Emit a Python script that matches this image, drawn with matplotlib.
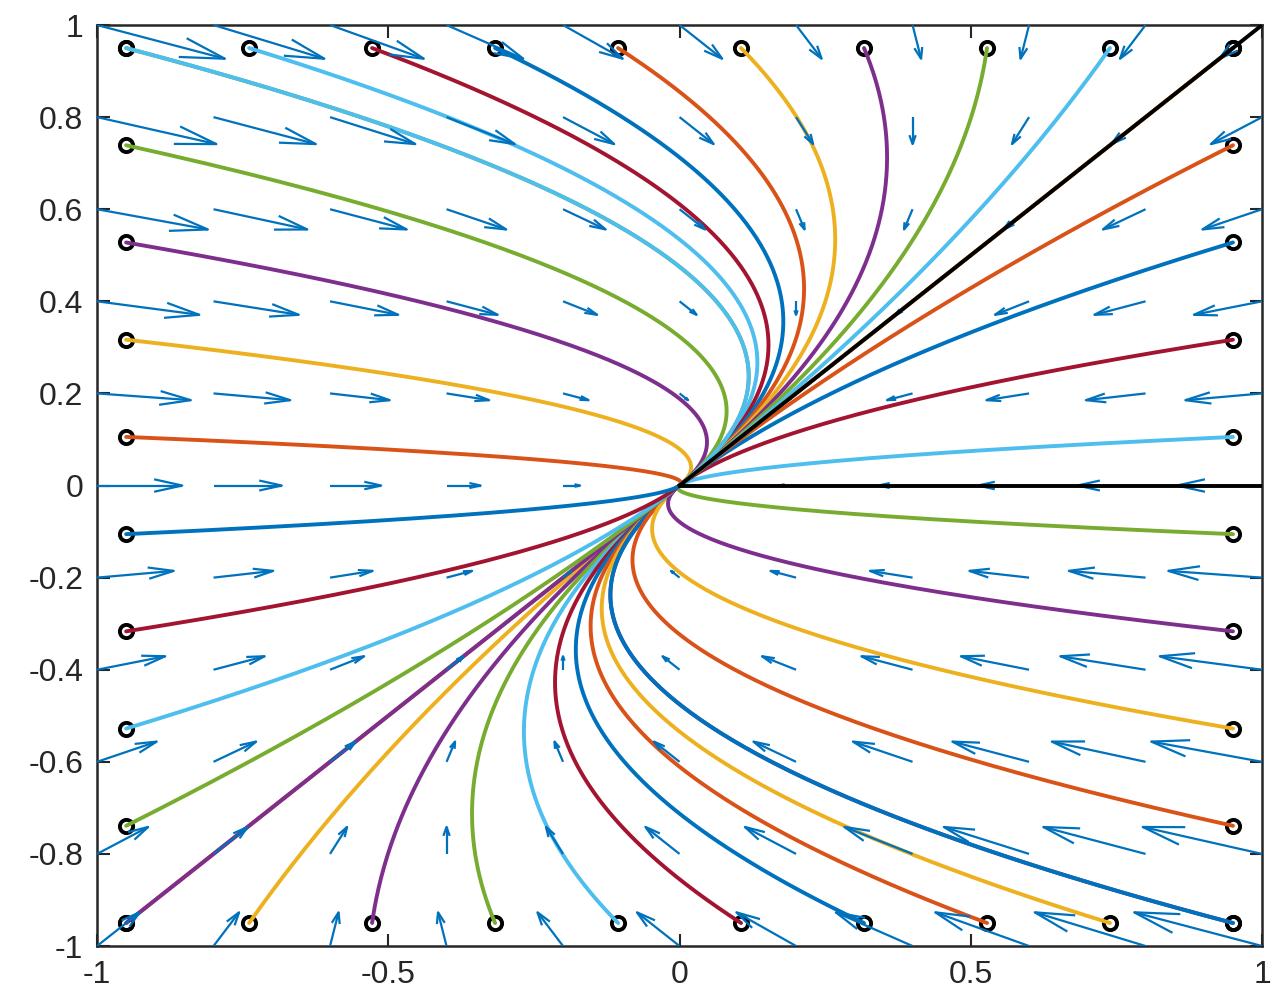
import numpy as np
import matplotlib
matplotlib.use("Agg")
import matplotlib.pyplot as plt
from matplotlib.collections import LineCollection

# linear system  d/dt [x, y] = A [x, y]
A = np.array([[-2.0, 1.0],
              [0.0, -1.0]])

# quiver grid
grid_x = np.linspace(-1, 1, 11)
grid_y = np.linspace(-1, 1, 11)

# start points of the trajectories (on the border of a 10x10 grid)
starts = np.linspace(-0.95, 0.95, 10)

# eigenvector directions drawn in black
eig1_x = [0, 1]
eig1_y = [0, 1]
eig2_x = [0, 1]
eig2_y = [0, 0]

tick_x = [-1, -0.5, 0, 0.5, 1]
tick_x_labels = ["-1", "-0.5", "0", "0.5", "1"]
tick_y = [-1, -0.8, -0.6, -0.4, -0.2, 0, 0.2, 0.4, 0.6, 0.8, 1]
tick_y_labels = ["-1", "-0.8", "-0.6", "-0.4", "-0.2", "0", "0.2", "0.4", "0.6", "0.8", "1"]

# matlab default colour order
colors = ["#0072BD", "#D95319", "#EDB120", "#7E2F8E", "#77AC30", "#4DBEEE", "#A2142F"]

plt.rcParams['font.family'] = ['Liberation Sans', 'DejaVu Sans']
plt.rcParams['axes.unicode_minus'] = False

fig = plt.figure(figsize=(12.8, 9.93), dpi=100)
ax = fig.add_axes([0.0758, 0.0473, 0.9102, 0.9275])

# ---- quiver, drawn like matlab (line arrows, autoscale)
X, Y = np.meshgrid(grid_x, grid_y)
U = A[0, 0] * X + A[0, 1] * Y
V = A[1, 0] * X + A[1, 1] * Y
n = np.sqrt(X.size)
delx = (grid_x.max() - grid_x.min()) / n
dely = (grid_y.max() - grid_y.min()) / n
lens = np.sqrt((U ** 2 + V ** 2) / (delx ** 2 + dely ** 2))
k = 0.9 / lens.max()
U = U * k
V = V * k

alpha, beta = 0.33, 0.28
segs = []
for x0, y0, u, v in zip(X.ravel(), Y.ravel(), U.ravel(), V.ravel()):
    if abs(u) + abs(v) < 1e-12:
        continue
    segs.append([(x0, y0), (x0 + u, y0 + v)])
    hx = [x0 + u - alpha * (u + beta * v), x0 + u, x0 + u - alpha * (u - beta * v)]
    hy = [y0 + v - alpha * (v - beta * u), y0 + v, y0 + v - alpha * (v + beta * u)]
    segs.append(list(zip(hx, hy)))
ax.add_collection(LineCollection(segs, colors=colors[0], linewidths=1.6, zorder=3))

# ---- trajectories
w, Vec = np.linalg.eig(A)
t = np.linspace(0, 14, 1500)

pts = []
pts += [(s, -0.95) for s in starts]   # bottom row
pts += [(s, 0.95) for s in starts]    # top row
pts += [(0.95, s) for s in starts]    # right column
pts += [(-0.95, s) for s in starts]   # left column

ci = 1
for (x0, y0) in pts:
    c = np.linalg.solve(Vec, np.array([x0, y0]))
    traj = Vec @ (c[:, None] * np.exp(w[:, None] * t))
    ax.plot(traj[0], traj[1], color=colors[ci % 7], lw=2.8, zorder=2,
            solid_capstyle='round')
    ax.plot(x0, y0, 'o', mfc='none', mec='black', ms=9.5, mew=2.8, zorder=1.5)
    ci += 1

ax.plot(eig1_x, eig1_y, color='black', lw=2.8, zorder=4)
ax.plot(eig2_x, eig2_y, color='black', lw=2.8, zorder=4)

ax.set_xlim(-1, 1)
ax.set_ylim(-1, 1)
ax.set_xticks(tick_x)
ax.set_xticklabels(tick_x_labels)
ax.set_yticks(tick_y)
ax.set_yticklabels(tick_y_labels)
ax.tick_params(direction='in', length=9, width=1.5, top=True, right=True,
               labelsize=23, colors='#262626', pad=10)
for sp in ax.spines.values():
    sp.set_linewidth(1.8)
    sp.set_color('#262626')

fig.savefig("out.png", dpi=100)
